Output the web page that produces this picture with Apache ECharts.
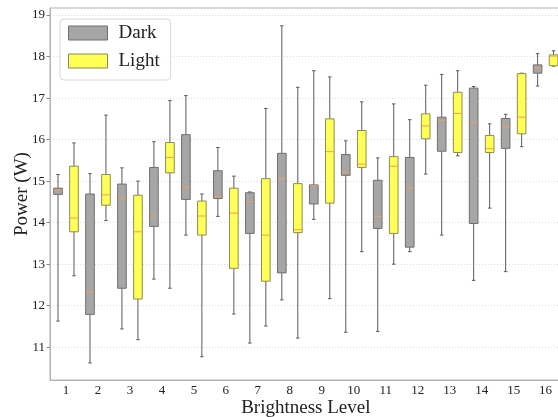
<!DOCTYPE html>
<html>
<head>
<meta charset="utf-8">
<script src="https://cdn.jsdelivr.net/npm/echarts@6/dist/echarts.min.js"></script>
<style>
  html, body { margin: 0; padding: 0; background: #fff; }
  #chart { width: 558px; height: 417px; }
</style>
</head>
<body>
<div id="chart"></div>
<script>
// brightness levels on the x axis
const levels = ['1', '2', '3', '4', '5', '6', '7', '8', '9', '10', '11', '12', '13', '14', '15', '16'];
const yTicks = [11, 12, 13, 14, 15, 16, 17, 18, 19];

// [whisker low, q1, median, q3, whisker high] per level
const darkStats = [
  [11.63, 14.68, 14.78, 14.83, 15.16],
  [10.62, 11.79, 12.32, 14.69, 15.18],
  [11.44, 12.42, 14.59, 14.93, 15.32],
  [12.64, 13.91, 14.16, 15.33, 15.95],
  [13.70, 14.56, 14.85, 16.12, 17.06],
  [14.15, 14.58, 14.63, 15.25, 15.81],
  [11.10, 13.74, 14.51, 14.72, 14.74],
  [12.14, 12.79, 15.06, 15.67, 18.74],
  [14.08, 14.45, 14.90, 14.91, 17.66],
  [11.36, 15.14, 15.21, 15.64, 15.97],
  [11.38, 13.86, 14.15, 15.02, 15.56],
  [13.30, 13.41, 14.83, 15.57, 16.48],
  [13.70, 15.72, 16.46, 16.54, 17.57],
  [12.61, 13.98, 16.41, 17.24, 17.28],
  [12.82, 15.79, 16.31, 16.51, 16.61],
  [17.29, 17.60, 17.72, 17.80, 18.07]
];
const lightStats = [
  [12.72, 13.78, 14.11, 15.36, 15.92],
  [14.05, 14.42, 14.67, 15.16, 16.59],
  [11.18, 12.16, 13.78, 14.66, 15.00],
  [12.42, 15.20, 15.57, 15.93, 16.94],
  [10.77, 13.70, 14.16, 14.52, 14.69],
  [11.80, 12.90, 14.23, 14.83, 15.12],
  [11.51, 12.59, 13.70, 15.06, 16.75],
  [11.22, 13.76, 13.83, 14.94, 17.26],
  [12.17, 14.47, 15.71, 16.50, 17.51],
  [13.30, 15.33, 15.41, 16.22, 16.91],
  [13.00, 13.74, 15.36, 15.59, 16.86],
  [15.17, 16.02, 16.33, 16.62, 17.31],
  [15.61, 15.69, 16.63, 17.14, 17.66],
  [14.35, 15.69, 15.78, 16.10, 16.38],
  [15.83, 16.14, 16.54, 17.59, 17.60],
  [17.77, 17.78, 18.01, 18.04, 18.14]
];

const FONT = 'Liberation Serif';
const groups = [
  { name: 'Dark', stats: darkStats, fill: '#a6a6a6', edge: '#6f6f6f', offset: -0.25 },
  { name: 'Light', stats: lightStats, fill: '#ffff55', edge: '#8c8c5a', offset: 0.25 }
];

function makeRender(g) {
  return function (params, api) {
    const cat = api.value(0);
    const band = api.size([1, 0])[0];
    const x = api.coord([cat, 0])[0] + g.offset * band;
    const w = band * 0.27;
    const cap = 3.5;
    const y = [1, 2, 3, 4, 5].map(i => api.coord([cat, api.value(i)])[1]);
    const lineStyle = { stroke: '#5a5a5a', lineWidth: 1 };
    return {
      type: 'group',
      children: [
        { type: 'line', shape: { x1: x, y1: y[3], x2: x, y2: y[4] }, style: lineStyle },
        { type: 'line', shape: { x1: x, y1: y[0], x2: x, y2: y[1] }, style: lineStyle },
        { type: 'line', shape: { x1: x - cap / 2, y1: y[4], x2: x + cap / 2, y2: y[4] }, style: lineStyle },
        { type: 'line', shape: { x1: x - cap / 2, y1: y[0], x2: x + cap / 2, y2: y[0] }, style: lineStyle },
        { type: 'rect', shape: { x: x - w / 2, y: y[3], width: w, height: y[1] - y[3] },
          style: { fill: g.fill, stroke: g.edge, lineWidth: 1 } },
        { type: 'line', shape: { x1: x - w / 2 + 0.5, y1: y[2], x2: x + w / 2 - 0.5, y2: y[2] },
          style: { stroke: '#f0a050', lineWidth: 1 } }
      ]
    };
  };
}

const chart = echarts.init(document.getElementById('chart'));
chart.setOption({
  animation: false,
  backgroundColor: '#fff',
  grid: {
    left: 50, top: 8, bottom: 37, right: -3.6,
    outerBoundsMode: 'none',
    containLabel: false,
    show: true, borderColor: '#b4b4b4', borderWidth: 1
  },
  legend: {
    orient: 'vertical',
    left: 60, top: 19,
    padding: [4.5, 11, 9.5, 8],
    itemWidth: 39, itemHeight: 14, itemGap: 9,
    backgroundColor: 'rgba(255,255,255,0.85)',
    borderColor: '#d8d8d8', borderWidth: 1, borderRadius: 4,
    textStyle: { fontFamily: FONT, fontSize: 19, color: '#222', padding: [0, 0, 0, 6] },
    data: groups.map(g => ({
      name: g.name, icon: 'rect',
      itemStyle: { color: g.fill, borderColor: g.edge, borderWidth: 1 }
    }))
  },
  xAxis: {
    type: 'category',
    data: levels,
    boundaryGap: true,
    name: 'Brightness Level',
    nameLocation: 'middle',
    nameGap: 19,
    nameMoveOverlap: false,
    nameTextStyle: { fontFamily: FONT, fontSize: 19, color: '#222' },
    axisLine: { lineStyle: { color: '#b4b4b4' } },
    axisTick: { alignWithLabel: true, length: 3.5, lineStyle: { color: '#888' } },
    axisLabel: { fontFamily: FONT, fontSize: 13, color: '#222', margin: 4, interval: 0 },
    splitLine: { show: false }
  },
  yAxis: {
    type: 'value',
    min: 10.21, max: 19.17,
    splitNumber: 9, minInterval: 1, maxInterval: 1,
    name: 'Power (W)',
    nameLocation: 'middle',
    nameGap: 18,
    nameMoveOverlap: false,
    nameTextStyle: { fontFamily: FONT, fontSize: 19, color: '#222' },
    axisLine: { show: true, lineStyle: { color: '#b4b4b4' } },
    axisTick: { show: true, length: 3.5, lineStyle: { color: '#888' } },
    axisLabel: {
      fontFamily: FONT, fontSize: 13, color: '#222', margin: 5,
      showMinLabel: false, showMaxLabel: false,
      formatter: v => (yTicks.indexOf(v) >= 0 ? String(v) : '')
    },
    splitLine: { show: true, lineStyle: { color: '#dcdcdc', type: [1, 2], width: 1 } }
  },
  series: groups.map(g => ({
    name: g.name,
    type: 'custom',
    renderItem: makeRender(g),
    itemStyle: { color: g.fill, borderColor: g.edge },
    encode: { x: 0, y: [1, 2, 3, 4, 5] },
    data: g.stats.map((s, i) => [i].concat(s))
  }))
});
</script>
</body>
</html>
